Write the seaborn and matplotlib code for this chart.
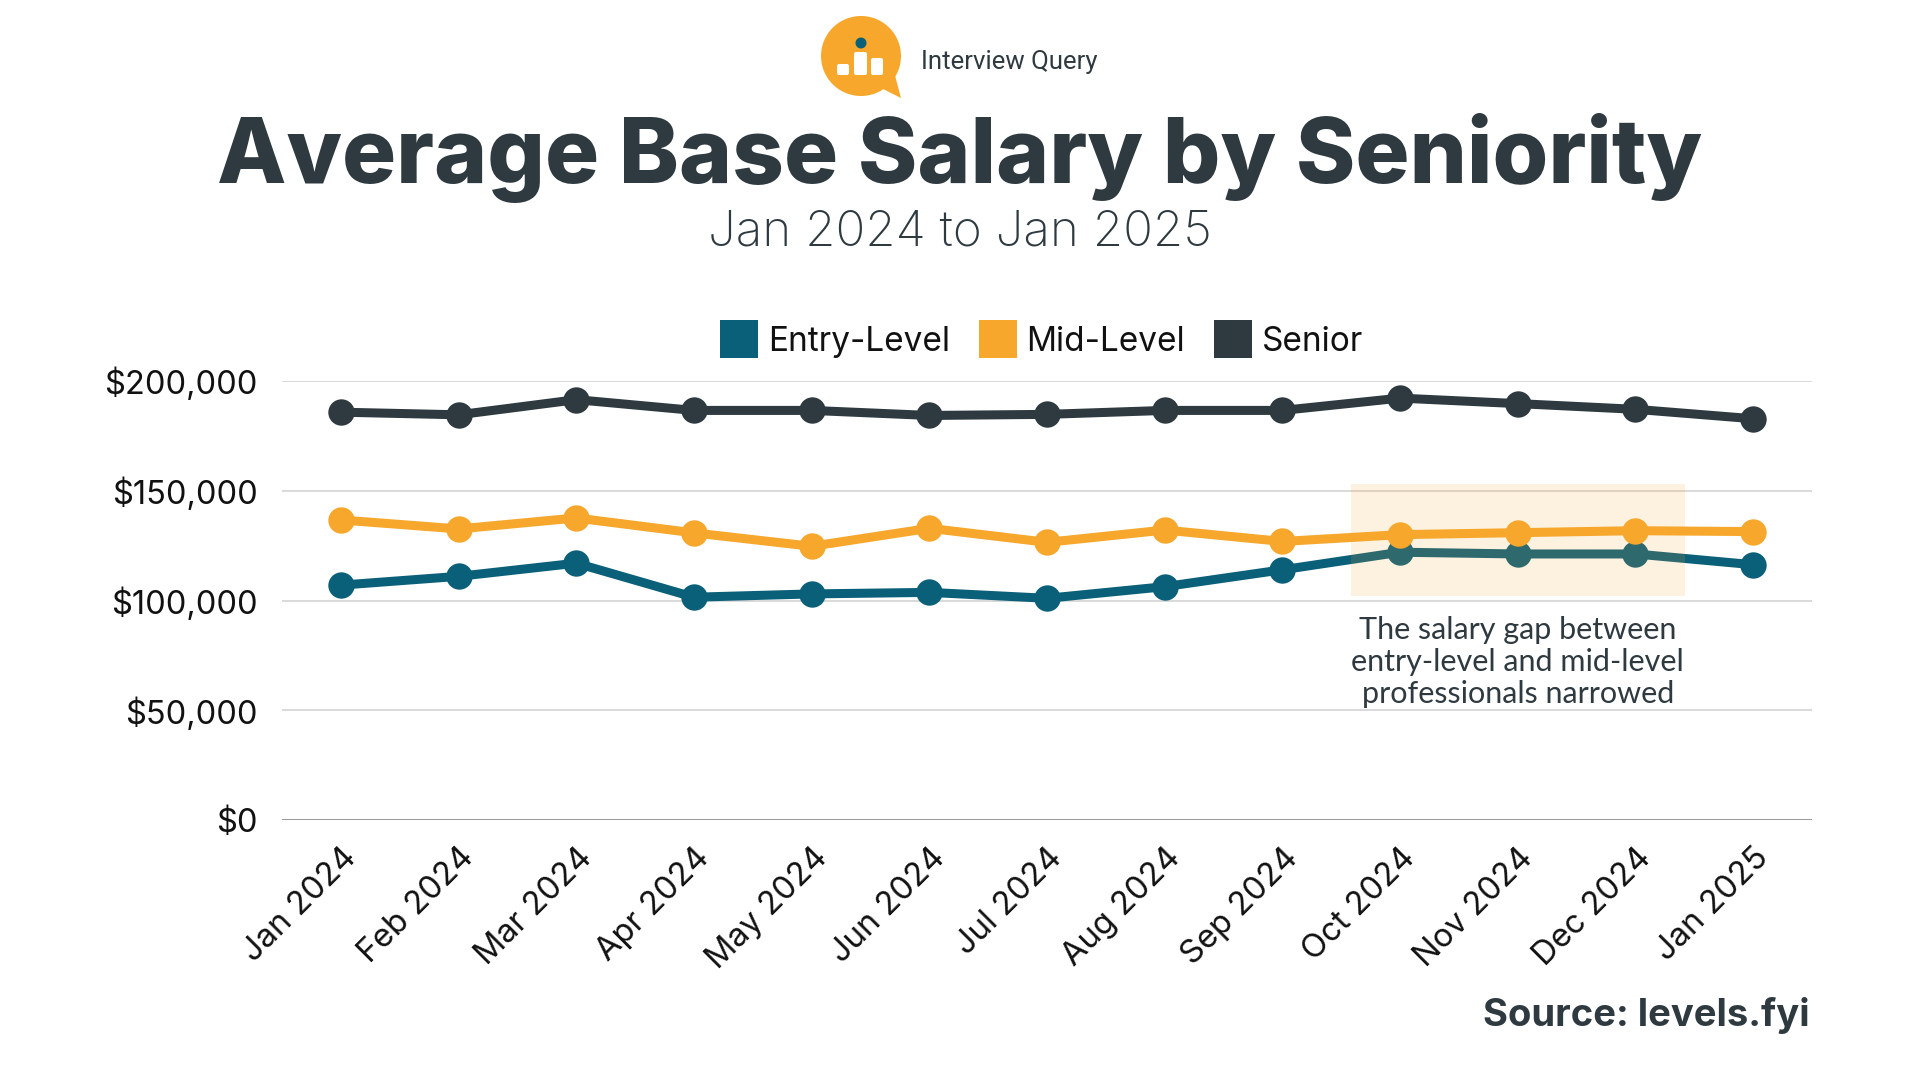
import matplotlib
matplotlib.use("Agg")
import matplotlib.pyplot as plt
import matplotlib.patches as mpatches
from matplotlib.lines import Line2D
import seaborn as sns
import pandas as pd

# ---------------- data ----------------
months = ["Jan 2024", "Feb 2024", "Mar 2024", "Apr 2024", "May 2024", "Jun 2024",
          "Jul 2024", "Aug 2024", "Sep 2024", "Oct 2024", "Nov 2024", "Dec 2024", "Jan 2025"]
entry_level = [107000, 111000, 117000, 101500, 103000, 103700, 101000, 106300, 114000,
               122000, 121200, 121200, 116300]
mid_level = [136700, 132600, 137600, 130800, 124700, 132900, 126500, 132100, 126900,
             130000, 130900, 131800, 131400]
senior = [185800, 184600, 191500, 186600, 186600, 184300, 184800, 186600, 186600,
          192200, 189700, 187100, 182800]
series_names = ["Entry-Level", "Mid-Level", "Senior"]
y_ticks = [0, 50000, 100000, 150000, 200000]
annotation = "The salary gap between\nentry-level and mid-level\nprofessionals narrowed"

colors = {"Entry-Level": "#0b6079", "Mid-Level": "#f7a72b", "Senior": "#2e3a40"}
dark = "#2e3a40"

rows = []
for name, vals in zip(series_names, [entry_level, mid_level, senior]):
    for i, (m, v) in enumerate(zip(months, vals)):
        rows.append({"idx": i, "month": m, "level": name, "salary": v})
df = pd.DataFrame(rows)

sns.set_theme(style="white")
plt.rcParams["font.family"] = ["Inter", "DejaVu Sans"]

fig = plt.figure(figsize=(19.2, 10.8), dpi=100)
fig.patch.set_facecolor("white")
ax_l, ax_r, ax_b, ax_t = 282, 1812, 820, 381
ax = fig.add_axes([ax_l / 1920, 1 - ax_b / 1080, (ax_r - ax_l) / 1920, (ax_b - ax_t) / 1080])

sns.lineplot(data=df, x="idx", y="salary", hue="level", hue_order=series_names,
             palette=colors, marker="o", markersize=19, markeredgewidth=0,
             linewidth=6.5, legend=False, ax=ax, clip_on=False)

ax.set_xlim(-0.5, 12.5)
ax.set_ylim(0, 200000)
ax.set_yticks(y_ticks)
ax.set_yticklabels([f"${v:,.0f}" for v in y_ticks], fontsize=23.5, color="#111111")
ax.set_xticks(range(len(months)))
ax.set_xticklabels(months, rotation=45, ha="right", va="top", rotation_mode="anchor",
                   fontsize=23.5, color="#111111")
ax.tick_params(axis="x", length=0, pad=16)
ax.tick_params(axis="y", length=0, pad=17.5)
ax.set_xlabel("")
ax.set_ylabel("")
for s in ax.spines.values():
    s.set_visible(False)
for v in y_ticks:
    ax.axhline(v, color="#999999" if v == 0 else "#d9d9d9", linewidth=1.4, zorder=0)

# highlight box
ax.add_patch(mpatches.Rectangle((8.58, 102000), 2.84, 51000, facecolor="#f7a72b",
                                alpha=0.15, edgecolor="none", zorder=5))
ax.text(10.0, 93000, annotation, ha="center", va="top", fontsize=22, color=dark,
        linespacing=1.17, family=["Liberation Sans Narrow", "Lato", "DejaVu Sans"],
        zorder=6)

# legend
handles = [Line2D([0], [0], marker="s", linestyle="none", markersize=28,
                  markerfacecolor=colors[n], markeredgewidth=0) for n in series_names]
fig.legend(handles, series_names, loc="center", bbox_to_anchor=(1042 / 1920, 1 - 342 / 1080),
           ncol=3, frameon=False, fontsize=24, handletextpad=0.3, columnspacing=0.9,
           handlelength=1.1, labelcolor="#111111")

# titles
fig.text(0.5, 1 - 183 / 1080, "Average Base Salary by Seniority", ha="center",
         va="baseline", fontsize=65, fontweight="heavy", color=dark)
fig.text(0.5, 1 - 246 / 1080, "Jan 2024 to Jan 2025", ha="center", va="baseline",
         fontsize=35.5, fontweight="light", color=dark)
fig.text(1810 / 1920, 1 - 1026 / 1080, "Source: levels.fyi", ha="right", va="baseline",
         fontsize=27.5, fontweight="bold", color=dark)

# logo
lax = fig.add_axes([0, 0, 1, 1], zorder=10)
lax.set_xlim(0, 1920)
lax.set_ylim(1080, 0)
lax.axis("off")
cx, cy = 861, 56
lax.add_patch(mpatches.Polygon([[cx + 8, cy + 26], [cx + 40, cy + 42], [cx + 32, cy + 12]],
                               closed=True, facecolor="#f7a72b", edgecolor="none"))
lax.add_patch(mpatches.Circle((cx, cy), 40, facecolor="#f7a72b", edgecolor="none"))
for (x0, y0, x1, y1) in [(-24, 8, -12, 19), (-7, -4, 6, 19), (10, 2, 22, 19)]:
    lax.add_patch(mpatches.FancyBboxPatch((cx + x0, cy + y0), x1 - x0, y1 - y0,
                                          boxstyle="round,pad=0,rounding_size=2",
                                          facecolor="white", edgecolor="none"))
lax.add_patch(mpatches.Circle((cx, cy - 13), 5.5, facecolor="#0b6079", edgecolor="none"))
lax.text(921, 62, "Interview Query", ha="left", va="center", fontsize=18.5,
         color=dark, family=["Liberation Sans Narrow", "Roboto", "DejaVu Sans"])

fig.savefig("out.png", dpi=100)
